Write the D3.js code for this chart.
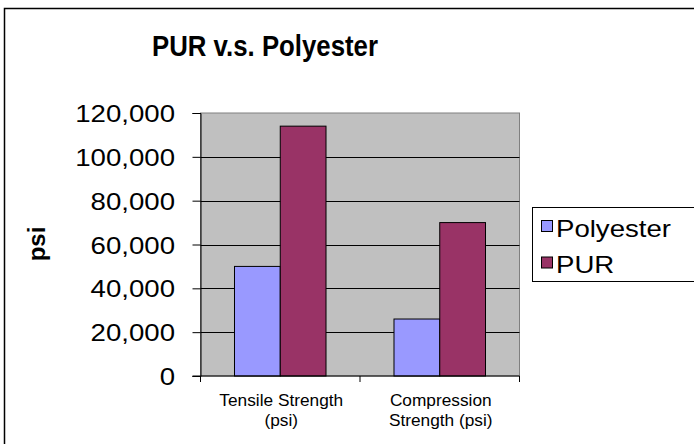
<html>
<head>
<title>PUR v.s. Polyester</title>
<style>
    body { margin: 0; background: #fff; }
    text { font-family: "Liberation Sans", Arial, sans-serif; fill: #000; }
</style>
</head>
<body>
<script src="https://d3js.org/d3.v7.min.js"></script>
<script>
    var categories = [["Tensile Strength", "(psi)"], ["Compression", "Strength (psi)"]];
    var seriesNames = ["Polyester", "PUR"];
    var polyester = [50000, 26000];
    var pur = [114000, 70000];
    var yTicks = [0, 20000, 40000, 60000, 80000, 100000, 120000];
    var colors = ["#9999ff", "#993366"];

    var w = 694, h = 444;
    var svg = d3.select('body').append('svg').attr('width', w).attr('height', h);

    // outer chart frame (right/bottom edges fall outside the picture)
    svg.append('rect').attr('x', 4.5).attr('y', 8.5).attr('width', 720).attr('height', 460)
        .attr('fill', '#fff').attr('stroke', '#000').attr('stroke-width', 1.5);

    var plot = {left: 200.5, right: 519.5, top: 113, bottom: 376};

    var x = d3.scaleBand().domain(d3.range(categories.length)).range([plot.left, plot.right]);
    var xSub = d3.scaleBand().domain(seriesNames).range([0, x.bandwidth()]).paddingOuter(0.743);
    var y = d3.scaleLinear().domain([0, 120000]).range([plot.bottom, plot.top]);

    // plot background
    svg.append('rect').attr('x', plot.left).attr('y', plot.top)
        .attr('width', plot.right - plot.left).attr('height', plot.bottom - plot.top)
        .attr('fill', '#c0c0c0').attr('stroke', '#808080').attr('stroke-width', 1);

    // gridlines
    svg.selectAll('line.grid').data(yTicks.slice(1, -1)).enter().append('line')
        .attr('x1', plot.left).attr('x2', plot.right)
        .attr('y1', d => Math.round(y(d)) + 0.5).attr('y2', d => Math.round(y(d)) + 0.5)
        .attr('stroke', '#000').attr('stroke-width', 1);

    // bars
    var data = [];
    categories.forEach(function (c, i) {
        data.push({cat: i, s: seriesNames[0], v: polyester[i]});
        data.push({cat: i, s: seriesNames[1], v: pur[i]});
    });
    svg.selectAll('rect.bar').data(data).enter().append('rect')
        .attr('x', d => x(d.cat) + xSub(d.s))
        .attr('y', d => y(d.v))
        .attr('width', xSub.bandwidth())
        .attr('height', d => y(0) - y(d.v))
        .attr('fill', d => colors[seriesNames.indexOf(d.s)])
        .attr('stroke', '#000').attr('stroke-width', 1);

    // y axis
    var yAxis = svg.append('g').attr('transform', 'translate(' + plot.left + ',0)')
        .call(d3.axisLeft(y).tickValues(yTicks).tickSize(8).tickPadding(0)
            .tickFormat(d3.format(',')));
    yAxis.select('.domain').attr('stroke', '#000');
    yAxis.selectAll('.tick line').attr('stroke', '#000');
    yAxis.selectAll('.tick text')
        .attr('x', 0).attr('dy', null).attr('y', 0)
        .attr('font-size', 24).attr('text-anchor', 'end')
        .attr('font-family', '"Liberation Sans", Arial, sans-serif')
        .attr('fill', '#000')
        .attr('transform', 'translate(-25.5,8.5) scale(1.15,1)');

    // x axis
    var xAxis = svg.append('g').attr('transform', 'translate(0,' + plot.bottom + ')');
    xAxis.append('line').attr('x1', plot.left - 8).attr('x2', plot.right)
        .attr('y1', 0).attr('y2', 0).attr('stroke', '#000');
    xAxis.selectAll('line.xt').data(d3.range(categories.length + 1)).enter().append('line')
        .attr('x1', d => plot.left + d * x.bandwidth()).attr('x2', d => plot.left + d * x.bandwidth())
        .attr('y1', 0).attr('y2', 6).attr('stroke', '#000');
    var catLabels = xAxis.selectAll('g.cat').data(categories).enter().append('g')
        .attr('transform', (d, i) => 'translate(' + (x(i) + x.bandwidth() / 2 + 1) + ',0) scale(1.08,1)');
    catLabels.selectAll('text').data(d => d).enter().append('text')
        .attr('y', (d, i) => 30 + i * 20.5)
        .attr('text-anchor', 'middle').attr('font-size', 16)
        .text(d => d);

    // title
    svg.append('text').attr('transform', 'translate(265,55.5) scale(0.86,1)')
        .attr('text-anchor', 'middle').attr('font-size', 30).attr('font-weight', 'bold')
        .text('PUR v.s. Polyester');

    // y label
    svg.append('text').attr('transform', 'translate(45,244) rotate(-90)')
        .attr('text-anchor', 'middle').attr('font-size', 24).attr('font-weight', 'bold')
        .text('psi');

    // legend
    var legend = svg.append('g').attr('transform', 'translate(532,207)');
    legend.append('rect').attr('x', 0.5).attr('y', 0.5).attr('width', 200).attr('height', 74)
        .attr('fill', '#fff').attr('stroke', '#000').attr('stroke-width', 1);
    var items = legend.selectAll('g.item').data(seriesNames).enter().append('g')
        .attr('transform', (d, i) => 'translate(0,' + (i * 36.5) + ')');
    items.append('rect').attr('x', 9.5).attr('y', 13.5).attr('width', 11).attr('height', 11)
        .attr('fill', (d, i) => colors[i]).attr('stroke', '#000').attr('stroke-width', 1);
    items.append('text').attr('transform', 'translate(24,29.5) scale(1.2,1)')
        .attr('font-size', 23).text(d => d);
</script>
</body>
</html>
